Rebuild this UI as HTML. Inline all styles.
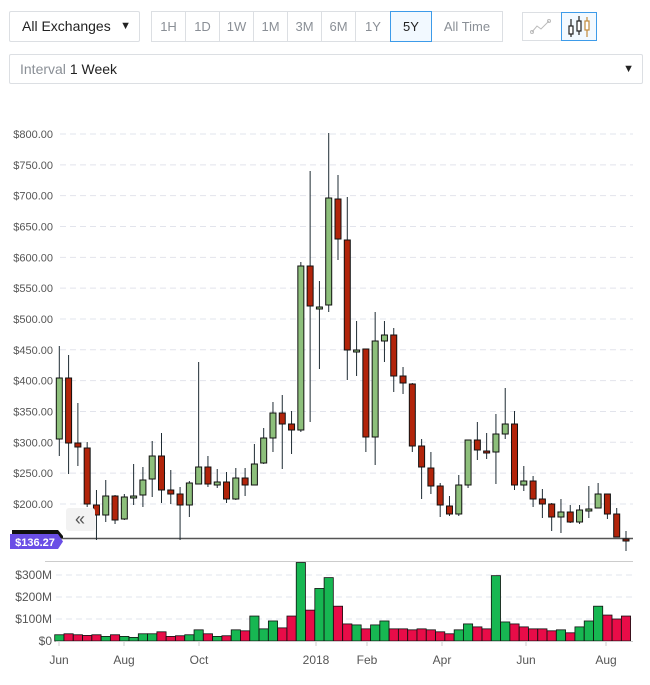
<!DOCTYPE html>
<html><head><meta charset="utf-8"><style>
body{margin:0;width:650px;height:685px;background:#fff;font-family:"Liberation Sans",sans-serif;position:relative;overflow:hidden}
.box{position:absolute;border:1px solid #dcdfe3;border-radius:2px;box-sizing:border-box;background:#fff}
.btn{position:absolute;top:11px;height:31px;box-sizing:border-box;border:1px solid #dcdfe3;font-size:13px;color:#8a8f96;text-align:center;line-height:29px}
</style></head><body>
<div class="box" style="left:9px;top:11px;width:131px;height:31px;font-size:14px;color:#222;line-height:29px;padding-left:12px">All Exchanges<span style="position:absolute;right:8px;font-size:11px">▼</span></div>
<div class="btn" style="left:151px;width:35px">1H</div>
<div class="btn" style="left:185px;width:35px">1D</div>
<div class="btn" style="left:219px;width:35px">1W</div>
<div class="btn" style="left:253px;width:35px">1M</div>
<div class="btn" style="left:287px;width:35px">3M</div>
<div class="btn" style="left:321px;width:35px">6M</div>
<div class="btn" style="left:355px;width:36px">1Y</div>
<div class="btn" style="left:431px;width:72px">All Time</div>
<div class="btn" style="left:390px;width:42px;border-color:#3d9be9;background:#f2f9ff;color:#222">5Y</div>
<div class="btn" style="left:522px;width:40px;top:12px;height:29px"><svg width="38" height="27"><polyline points="9,19 14,13 18,16 26,8" fill="none" stroke="#bbb" stroke-width="1"/><circle cx="9" cy="19" r="1.5" fill="none" stroke="#bbb"/><circle cx="26" cy="8" r="1.5" fill="none" stroke="#bbb"/></svg></div>
<div class="btn" style="left:561px;width:36px;top:12px;height:29px;border-color:#3d9be9;background:#f2f9ff"><svg width="34" height="27"><g stroke="#222" fill="none" stroke-width="1.2"><line x1="9" y1="6" x2="9" y2="24"/><rect x="7" y="13" width="4" height="8" fill="#fff"/><line x1="17" y1="3" x2="17" y2="22"/><rect x="15" y="8" width="4" height="10" fill="#fff"/></g><g stroke="#c28a3a" fill="none" stroke-width="1.2"><line x1="25" y1="4" x2="25" y2="24"/><rect x="23" y="8" width="4" height="9" fill="#fff"/></g></svg></div>
<div class="box" style="left:9px;top:54px;width:634px;height:30px;font-size:14px;line-height:28px;padding-left:10px;color:#8a8f96">Interval <span style="color:#222">1 Week</span><span style="position:absolute;right:8px;font-size:11px;color:#222">▼</span></div>
<svg id="c" width="650" height="685" style="position:absolute;left:0;top:0"></svg>
<script>
var s='';
var labs=[800,750,700,650,600,550,500,450,400,350,300,250,200];
labs.forEach(function(p,i){var y=134+i*30.83;
s+='<line x1="60" x2="633" y1="'+y+'" y2="'+y+'" stroke="#e2e4ec" stroke-dasharray="6,4"/>';
s+='<text x="53" y="'+(y+4)+'" text-anchor="end" font-size="11" fill="#555">$'+p+'.00</text>';});
[[575,'$300M'],[597,'$200M'],[619,'$100M'],[641,'$0']].forEach(function(a){
if(a[1]!='$0')s+='<line x1="56" x2="633" y1="'+a[0]+'" y2="'+a[0]+'" stroke="#e2e4ec" stroke-dasharray="6,4"/>';
s+='<text x="52" y="'+(a[0]+4)+'" text-anchor="end" font-size="12" fill="#555">'+a[1]+'</text>';});
s+='<line x1="45" x2="633" y1="561.5" y2="561.5" stroke="#ccc"/>';
var C=[[346,456,378,439,1],[355,474,378,443,0],[403,466,443,447,0],[442,507,448,504,0],[490,540,505,515,0],[480,522,496,515,1],[495,524,496,520,0],[494,520,497,519,1],[464,505,496,498,1],[467,507,480,495,1],[441,497,456,479,1],[433,503,456,490,0],[470,504,490,494,0],[487,540,494,505,0],[481,517,483,505,1],[362,484,467,484,1],[456,487,467,484,0],[469,488,482,485,1],[472,503,482,499,0],[468,500,478,499,1],[468,496,478,485,0],[444,485,464,485,1],[428,464,438,463,1],[402,452,413,438,1],[395,469,413,424,0],[411,454,424,430,0],[262,432,266,430,1],[171,422,266,306,0],[281,369,307,309,1],[133,312,198,305,1],[175,260,199,239,0],[197,380,240,350,0],[321,376,350,352,1],[349,452,349,437,0],[312,465,341,437,1],[321,362,335,341,1],[328,392,335,376,0],[367,394,376,383,0],[383,452,384,446,0],[439,499,446,467,0],[452,494,468,486,0],[483,517,486,505,0],[496,516,506,514,0],[475,516,485,514,1],[440,488,440,485,1],[422,460,440,450,0],[433,459,451,453,0],[414,484,434,452,1],[388,439,424,434,1],[411,490,424,485,0],[466,491,481,485,1],[476,507,481,499,0],[489,518,499,504,0],[503,531,504,517,0],[499,533,512,517,1],[505,523,512,522,0],[505,524,510,522,1],[486,518,509,511,1],[483,508,494,508,1],[494,519,494,514,0],[508,537,514,537,0],[531,551,539,541,0]];
var V=[[433,1],[430,0],[433,0],[435,0],[433,0],[438,1],[433,0],[438,1],[441,1],[430,1],[430,1],[424,0],[438,0],[436,0],[433,1],[418,1],[430,0],[438,1],[436,0],[418,1],[421,0],[376,1],[415,1],[391,1],[412,0],[376,0],[213,1],[358,0],[292,1],[259,1],[346,0],[400,0],[403,1],[415,0],[403,1],[391,1],[415,0],[415,0],[418,0],[415,0],[418,0],[424,0],[430,0],[418,1],[400,1],[409,0],[415,0],[253,1],[394,1],[400,0],[409,0],[415,0],[415,0],[421,0],[418,1],[427,0],[409,1],[391,1],[346,1],[373,0],[385,0],[376,0]];
s+='<line x1="60" x2="633" y1="538.5" y2="538.5" stroke="#555" stroke-width="1.5"/>';
C.forEach(function(c,i){var x=59.3+i*9.29;
s+='<line x1="'+x+'" x2="'+x+'" y1="'+c[0]+'" y2="'+c[1]+'" stroke="#1e2b33" stroke-width="1"/>';
var t=Math.min(c[2],c[3]),h=Math.max(Math.abs(c[3]-c[2]),1.5);
s+='<rect x="'+(x-3)+'" y="'+t+'" width="6" height="'+h+'" fill="'+(c[4]?'#8dbf7b':'#b2240a')+'" stroke="#111" stroke-width="1"/>';});
V.forEach(function(v,i){var x=59.3+i*9.29,h=(452-v[0])*22/67;
s+='<rect x="'+(x-4.6)+'" y="'+(641-h)+'" width="9.2" height="'+h+'" fill="'+(v[1]?'#17b752':'#e80c48')+'" stroke="#111" stroke-width="0.8"/>';});
s+='<line x1="56" x2="633" y1="641.5" y2="641.5" stroke="#ccc"/>';
[[59,'Jun'],[124,'Aug'],[199,'Oct'],[316,'2018'],[367,'Feb'],[442,'Apr'],[526,'Jun'],[606,'Aug']].forEach(function(a){
s+='<line x1="'+a[0]+'" x2="'+a[0]+'" y1="642" y2="646" stroke="#ccc"/><text x="'+a[0]+'" y="664" text-anchor="middle" font-size="12" fill="#555">'+a[1]+'</text>';});
s+='<rect x="66" y="508" width="29" height="23" rx="3" fill="#f2f2f2"/><text x="80" y="525" text-anchor="middle" font-size="18" fill="#555">«</text>';
s+='<path d="M12,530 L58,530 L63,536 L63,538 L12,538Z" fill="#111"/>';
s+='<path d="M10,534 L58,534 L63,541.5 L58,549 L10,549Z" fill="#6a4ee6"/><text x="35" y="546" text-anchor="middle" font-size="11" font-weight="bold" fill="#fff">$136.27</text>';
document.getElementById('c').innerHTML=s;
</script>
</body></html>
